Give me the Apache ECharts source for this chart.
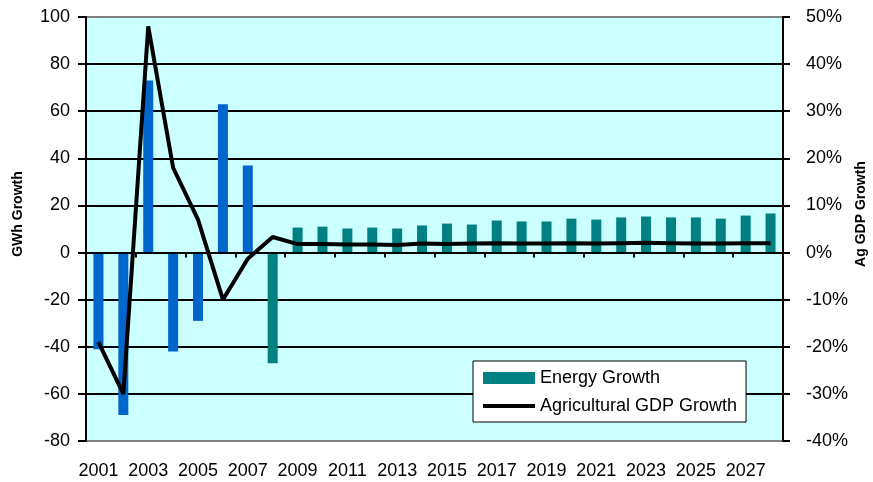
<!DOCTYPE html>
<html>
<head>
<meta charset="utf-8">
<script src="https://cdn.jsdelivr.net/npm/echarts@6/dist/echarts.min.js"></script>
<style>
  html, body { margin: 0; padding: 0; background: #fff; }
  #chart { width: 873px; height: 482px; }
</style>
</head>
<body>
<div id="chart"></div>
<script>
// 年份
var years = ['2001','2002','2003','2004','2005','2006','2007','2008','2009','2010',
  '2011','2012','2013','2014','2015','2016','2017','2018','2019','2020',
  '2021','2022','2023','2024','2025','2026','2027','2028'];
// GWh growth (left axis)
var energyGrowth = [-41, -69, 73, -42, -29, 63, 37, -47, 10.6, 11.0,
  10.2, 10.6, 10.2, 11.5, 12.3, 11.9, 13.6, 13.2, 13.2, 14.4,
  14.0, 14.9, 15.3, 14.9, 14.9, 14.4, 15.7, 16.6];
// Ag GDP growth in % (right axis)
var agGdpGrowth = [-19, -30, 48, 18, 7, -10, -1.3, 3.3, 1.8, 1.8,
  1.7, 1.7, 1.6, 1.9, 1.8, 1.9, 2.0, 1.9, 1.9, 2.0,
  1.9, 2.0, 2.1, 2.0, 1.9, 1.9, 2.0, 2.0];
// historical years drawn in blue
var lastHistYear = '2007';

var font = 'Liberation Sans, Arial, sans-serif';

var barData = energyGrowth.map(function (v, i) {
  if (years[i] <= lastHistYear) {
    return { value: v, itemStyle: { color: '#0066CC' } };
  }
  return v;
});

// gray border lines at top/bottom, black gridlines between
var splitColors = ['#808080', '#000', '#000', '#000', '#000', '#000', '#000', '#000', '#000', '#808080'];

var chart = echarts.init(document.getElementById('chart'));
chart.setOption({
  animation: false,
  grid: {
    left: 86, right: 90, top: 17, bottom: 41,
    show: true,
    backgroundColor: '#CCFFFF',
    borderWidth: 0
  },
  legend: {
    orient: 'vertical',
    left: 473, top: 361,
    padding: [8, 9, 7, 8],
    itemGap: 10,
    itemWidth: 52,
    itemHeight: 12,
    backgroundColor: '#fff',
    borderColor: '#000',
    borderWidth: 1,
    borderRadius: 0,
    textStyle: { fontFamily: font, fontSize: 18, color: '#000' },
    data: [
      { name: 'Energy Growth', icon: 'rect' },
      // hide the symbol dot on the line icon
      {
        name: 'Agricultural GDP Growth',
        itemStyle: { color: 'rgba(0,0,0,0)', borderWidth: 0 },
        lineStyle: { color: '#000', width: 4 }
      }
    ]
  },
  xAxis: [{
    type: 'category',
    data: years,
    position: 'bottom',
    axisLine: { onZero: false, show: false },
    axisTick: { show: false },
    axisLabel: { interval: 1, margin: 21, fontFamily: font, fontSize: 18, color: '#000' },
    splitLine: { show: false }
  }, {
    type: 'category',
    data: years,
    position: 'bottom',
    z: 3,
    axisLine: { onZero: true, lineStyle: { color: '#000', width: 2 } },
    axisTick: { show: true, length: 5, lineStyle: { color: '#000', width: 2 } },
    axisLabel: { show: false },
    splitLine: { show: false }
  }],
  yAxis: [{
    type: 'value',
    min: -80, max: 100, interval: 20,
    axisLine: { show: true, lineStyle: { color: '#000', width: 2 } },
    axisTick: { show: true, length: 8, lineStyle: { color: '#000', width: 2 } },
    axisLabel: { margin: 16, fontFamily: font, fontSize: 18, color: '#000' },
    splitLine: { show: true, lineStyle: { color: splitColors, width: 2 } }
  }, {
    type: 'value',
    min: -40, max: 50, interval: 10,
    position: 'right',
    axisLine: { show: true, lineStyle: { color: '#000', width: 2 } },
    axisTick: { show: true, length: 7, lineStyle: { color: '#000', width: 2 } },
    axisLabel: { margin: 23, formatter: '{value}%', fontFamily: font, fontSize: 18, color: '#000' },
    splitLine: { show: false }
  }],
  graphic: [{
    type: 'text',
    x: 18, y: 214,
    rotation: Math.PI / 2,
    style: { text: 'GWh Growth', font: 'bold 14px ' + font, fill: '#000', textAlign: 'center', textVerticalAlign: 'middle' }
  }, {
    type: 'text',
    x: 861, y: 214,
    rotation: Math.PI / 2,
    style: { text: 'Ag GDP Growth', font: 'bold 14px ' + font, fill: '#000', textAlign: 'center', textVerticalAlign: 'middle' }
  }],
  series: [{
    name: 'Energy Growth',
    type: 'bar',
    xAxisIndex: 0,
    yAxisIndex: 0,
    barWidth: 10,
    itemStyle: { color: '#008080' },
    data: barData
  }, {
    name: 'Agricultural GDP Growth',
    type: 'line',
    xAxisIndex: 0,
    yAxisIndex: 1,
    z: 5,
    symbol: 'none',
    lineStyle: { color: '#000', width: 4 },
    itemStyle: { color: '#000' },
    data: agGdpGrowth
  }]
});
</script>
</body>
</html>
